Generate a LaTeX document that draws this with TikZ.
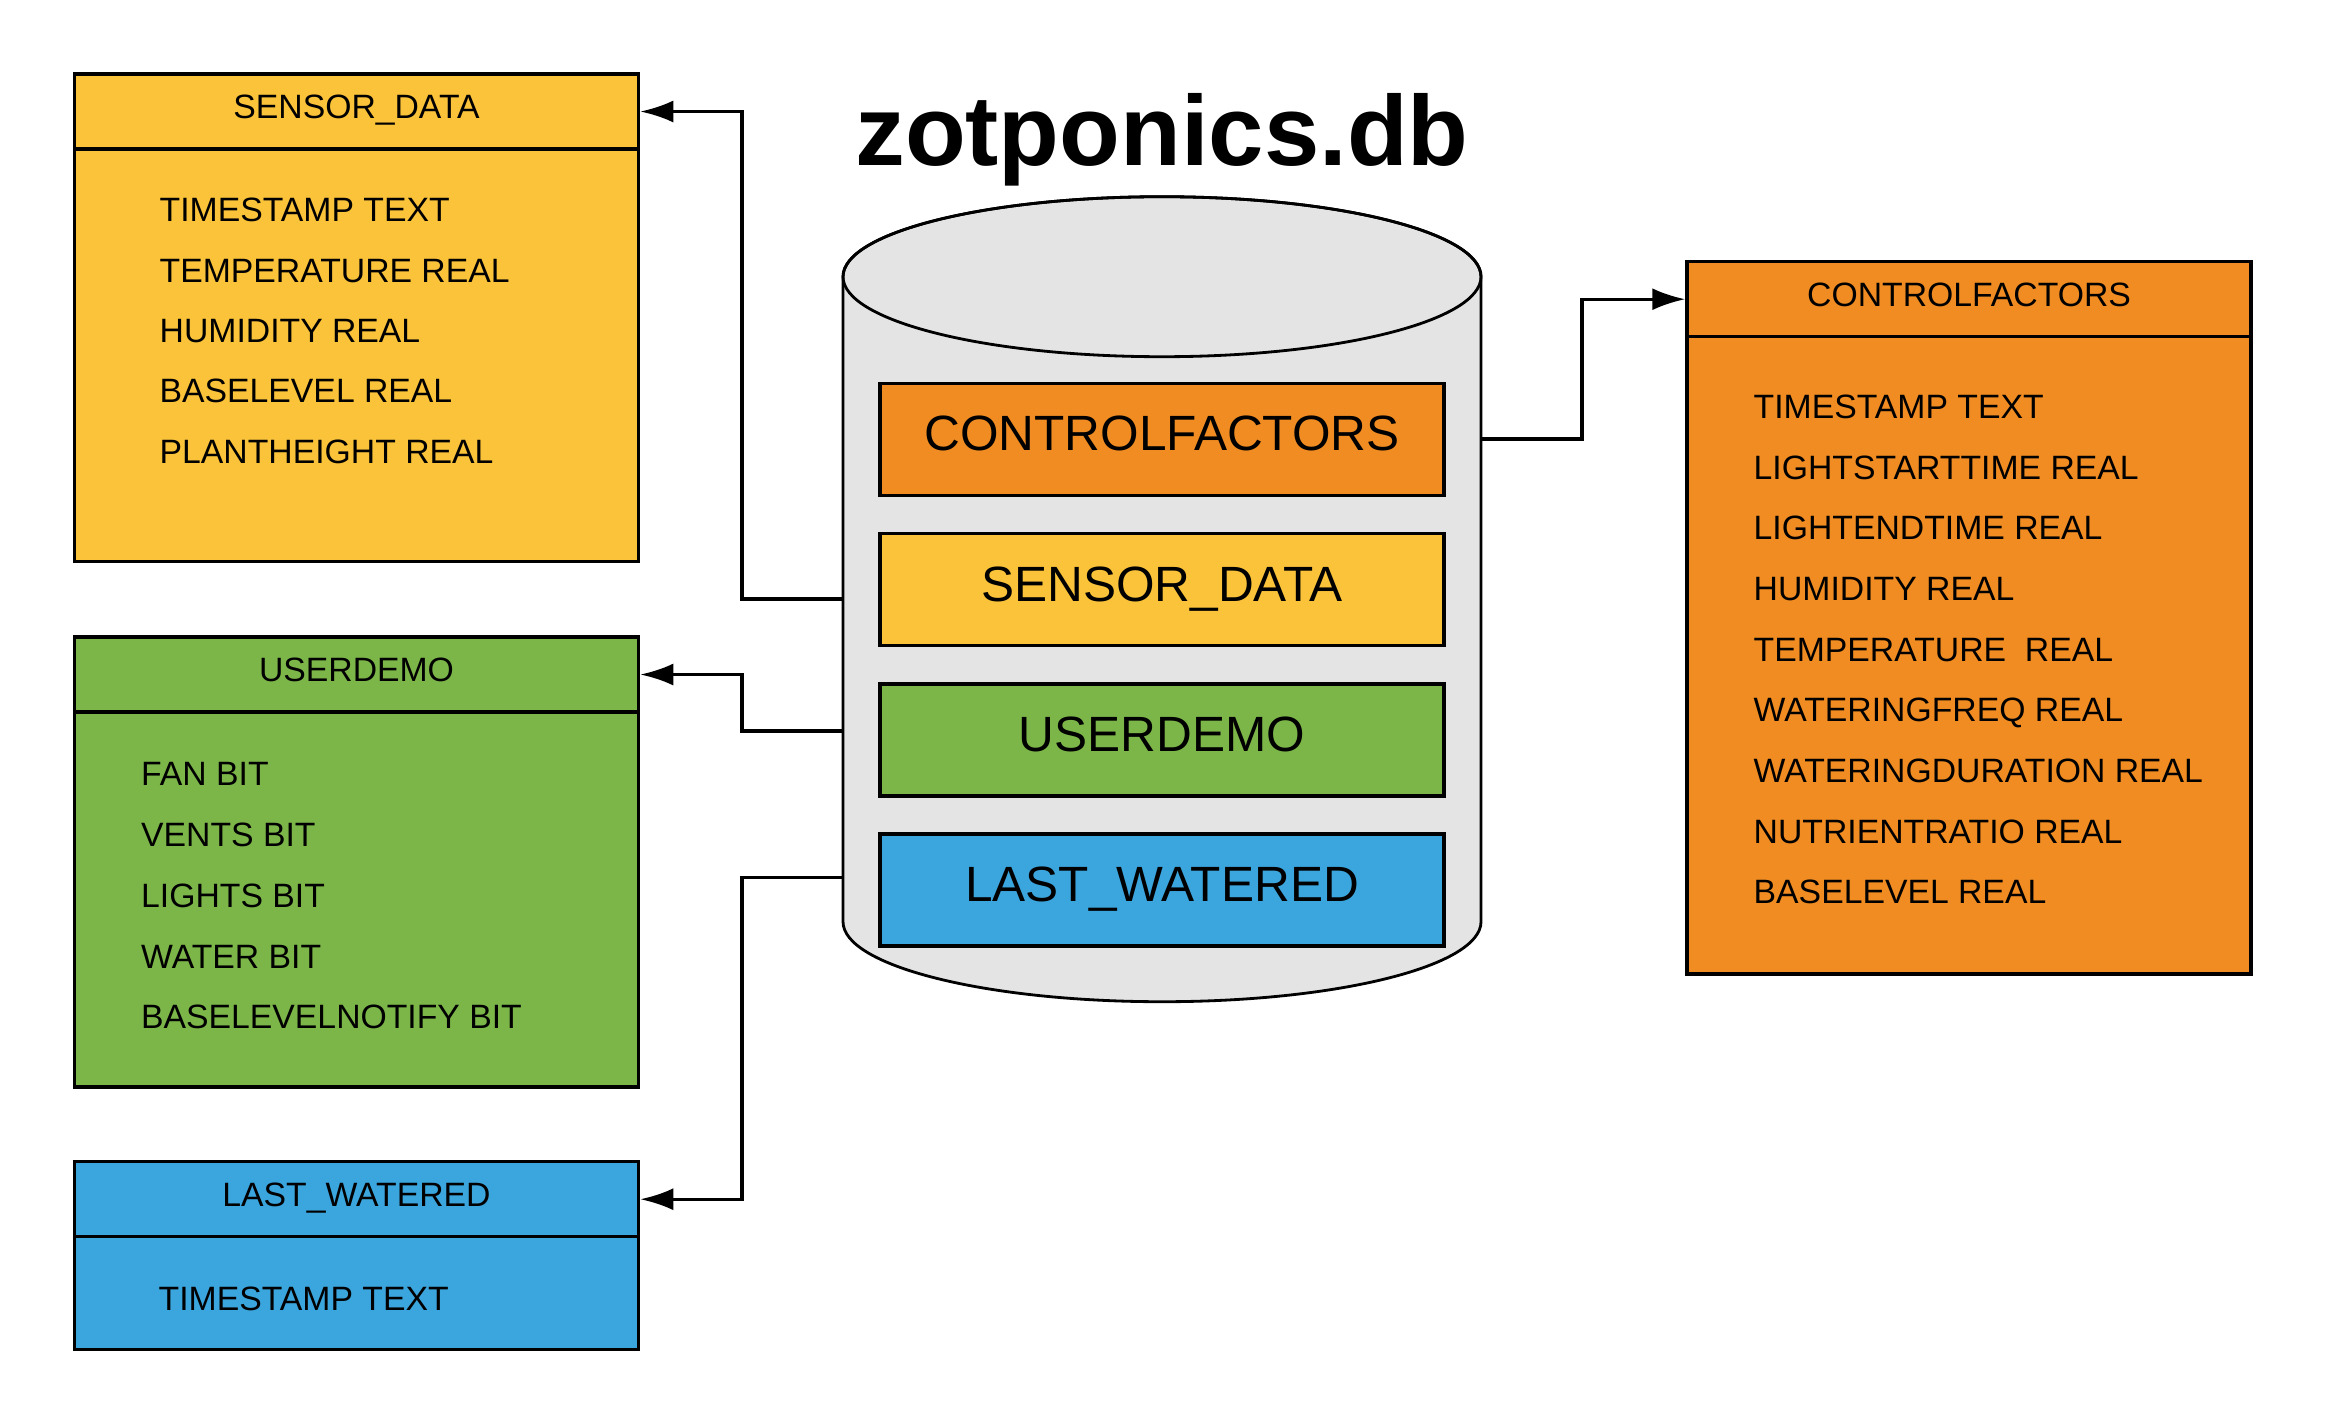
\documentclass[tikz,border=0pt]{standalone}
\usepackage{fontspec}
\setmainfont{Liberation Sans}
\usetikzlibrary{arrows.meta,calc}

\definecolor{sdcol}{RGB}{251,195,58}
\definecolor{cfcol}{RGB}{240,140,34}
\definecolor{udcol}{RGB}{124,182,73}
\definecolor{lwcol}{RGB}{59,165,221}
\definecolor{dbgray}{RGB}{228,228,228}

\begin{document}
\begin{tikzpicture}[
    hdr/.style={draw, line width=1pt, minimum width=5.64cm, minimum height=0.75cm, inner sep=0pt,
        font=\fontsize{9.6}{11}\selectfont, text height=6.9pt, text depth=2.8pt},
    tbody/.style={draw, line width=1pt, minimum width=5.64cm, inner sep=0pt},
    field/.style={anchor=base west, inner sep=0pt, font=\fontsize{9.6}{11}\selectfont},
    dbbox/.style={draw, line width=1pt, minimum width=5.64cm, minimum height=1.12cm, inner sep=0pt,
        font=\fontsize{14.1}{16}\selectfont, text height=10.1pt, text depth=3.5pt},
    link/.style={line width=0.9pt, -{Latex[length=3.3mm,width=2.2mm]}}
]
            \useasboundingbox (0,0) rectangle (23.25,-14.25);

            % database cylinder
            \draw[line width=0.8pt, fill=dbgray] (8.43,-2.767) -- (8.43,-9.217)
                arc[start angle=180, end angle=360, x radius=3.19, y radius=0.8]
                -- (14.81,-2.767)
                arc[start angle=0, end angle=180, x radius=3.19, y radius=0.8] -- cycle;
            \draw[line width=0.8pt] (11.62,-2.767) ellipse[x radius=3.19, y radius=0.8];

            \node[font=\fontsize{28.3}{34}\selectfont\bfseries, anchor=base, inner sep=0pt] at (11.62,-1.65) (dbtitle) {zotponics.db};

            \node[dbbox, fill=cfcol] at (11.62,-4.393) (DBCF) {CONTROLFACTORS};
            \node[dbbox, fill=sdcol] at (11.62,-5.895) (DBSD) {SENSOR\_DATA};
            \node[dbbox, fill=udcol] at (11.62,-7.398) (DBUD) {USERDEMO};
            \node[dbbox, fill=lwcol] at (11.62,-8.900) (DBLW) {LAST\_WATERED};

            \coordinate (dbsd) at (8.43,-5.99);
            \coordinate (dbud) at (8.43,-7.31);
            \coordinate (dblw) at (8.43,-8.775);
            \coordinate (dbcf) at (14.81,-4.39);

            % SENSOR_DATA table
            \node[tbody, fill=sdcol, minimum height=4.127cm] at (3.565,-3.5535) (SDbody) {};
            \node[hdr, fill=sdcol] at (3.565,-1.115) (SDhead) {SENSOR\_DATA};
            \node[field] at (1.59,-2.217) (sd1) {TIMESTAMP TEXT};
            \node[field] at (1.59,-2.821) (sd2) {TEMPERATURE REAL};
            \node[field] at (1.59,-3.425) (sd3) {HUMIDITY REAL};
            \node[field] at (1.59,-4.029) (sd4) {BASELEVEL REAL};
            \node[field] at (1.59,-4.633) (sd5) {PLANTHEIGHT REAL};

            % USERDEMO table
            \node[tbody, fill=udcol, minimum height=3.75cm] at (3.565,-8.995) (UDbody) {};
            \node[hdr, fill=udcol] at (3.565,-6.745) (UDhead) {USERDEMO};
            \node[field] at (1.405,-7.857) (ud1) {FAN BIT};
            \node[field] at (1.405,-8.465) (ud2) {VENTS BIT};
            \node[field] at (1.405,-9.073) (ud3) {LIGHTS BIT};
            \node[field] at (1.405,-9.681) (ud4) {WATER BIT};
            \node[field] at (1.405,-10.289) (ud5) {BASELEVELNOTIFY BIT};

            % LAST_WATERED table
            \node[tbody, fill=lwcol, minimum height=1.126cm] at (3.565,-12.93) (LWbody) {};
            \node[hdr, fill=lwcol] at (3.565,-11.992) (LWhead) {LAST\_WATERED};
            \node[field] at (1.58,-13.107) (lw1) {TIMESTAMP TEXT};

            % CONTROLFACTORS table
            \node[tbody, fill=cfcol, minimum height=6.373cm] at (19.69,-6.5535) (CFbody) {};
            \node[hdr, fill=cfcol] at (19.69,-2.992) (CFhead) {CONTROLFACTORS};
            \node[field] at (17.53,-4.183) (cf1) {TIMESTAMP TEXT};
            \node[field] at (17.53,-4.790) (cf2) {LIGHTSTARTTIME REAL};
            \node[field] at (17.53,-5.397) (cf3) {LIGHTENDTIME REAL};
            \node[field] at (17.53,-6.004) (cf4) {HUMIDITY REAL};
            \node[field] at (17.53,-6.611) (cf5) {TEMPERATURE\ \ REAL};
            \node[field] at (17.53,-7.218) (cf6) {WATERINGFREQ REAL};
            \node[field] at (17.53,-7.825) (cf7) {WATERINGDURATION REAL};
            \node[field] at (17.53,-8.432) (cf8) {NUTRIENTRATIO REAL};
            \node[field] at (17.53,-9.039) (cf9) {BASELEVEL REAL};

            % links
            \draw[link] (dbsd) -- ++(-1.01,0) |- (SDhead.east);
            \draw[link] (dbud) -- ++(-1.01,0) |- (UDhead.east);
            \draw[link] (dblw) -- ++(-1.01,0) |- (LWhead.east);
            \draw[link] (dbcf) -- ++(1.01,0) |- (CFhead.west);
\end{tikzpicture}
\end{document}
